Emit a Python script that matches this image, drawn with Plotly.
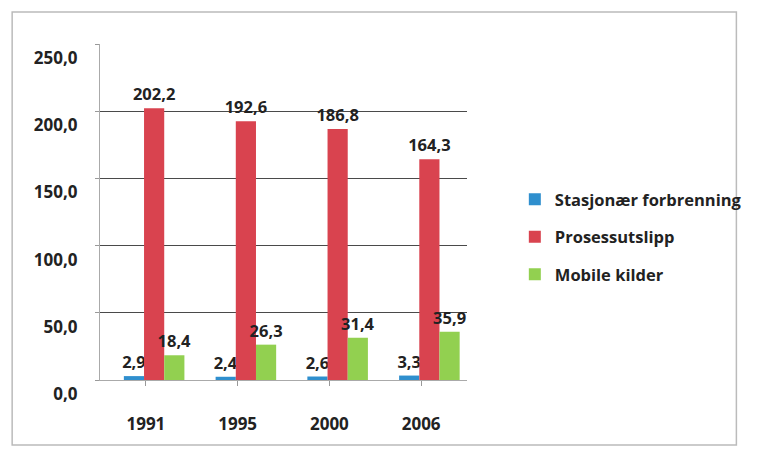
import plotly.graph_objects as go

years = ["1991", "1995", "2000", "2006"]
stasjonaer = [2.9, 2.4, 2.6, 3.3]
prosess = [202.2, 192.6, 186.8, 164.3]
mobile = [18.4, 26.3, 31.4, 35.9]
series_names = ["Stasjonær forbrenning", "Prosessutslipp", "Mobile kilder"]
colors = ["#2f8fce", "#d9434f", "#92d050"]
y_ticks = [0, 50, 100, 150, 200, 250]

FONT = "Open Sans"
BAR_W = 0.22
offsets = [-0.24, -0.02, 0.20]

fig = go.Figure()
for i, (name, vals) in enumerate(zip(series_names, [stasjonaer, prosess, mobile])):
    fig.add_trace(go.Bar(
        x=years, y=vals, name=name, legendgroup=str(i),
        width=BAR_W, offset=offsets[i],
        marker=dict(color=colors[i], line=dict(width=0)),
        text=[f"{v:.1f}".replace(".", ",") for v in vals],
        textposition="outside", cliponaxis=False, constraintext="none",
        textfont=dict(family=FONT, size=16.5, color="#222222", weight="bold"),
    ))

L, R, T, B = 100, 283, 44, 75
W, H = 759, 455
pw, ph = W - L - R, H - T - B

fig.update_layout(
    width=W, height=H,
    margin=dict(l=L, r=R, t=T, b=B),
    paper_bgcolor="white", plot_bgcolor="white",
    barmode="overlay",
    separators=", ",
    font=dict(family=FONT, size=15, color="#222222"),
    legend=dict(
        x=(525 - L) / pw, y=(T + ph - 182) / ph, xanchor="left", yanchor="top",
        font=dict(family=FONT, size=16.5, color="#222222", weight="bold"),
        tracegroupgap=13, itemwidth=30, bgcolor="rgba(0,0,0,0)",
    ),
    xaxis=dict(
        showline=True, linecolor="#aaaaaa", linewidth=1,
        ticks="outside", ticklen=5, tickcolor="#999999",
        ticklabelstandoff=24,
        tickfont=dict(family=FONT, size=17, color="#222222", weight="bold"),
        showgrid=False,
    ),
    yaxis=dict(
        range=[0, 250], tickvals=y_ticks,
        ticktext=[f"{v:.1f}".replace(".", ",") for v in y_ticks],
        showline=True, linecolor="#aaaaaa", linewidth=1,
        ticks="outside", ticklen=4, tickcolor="#999999",
        ticklabelstandoff=14, ticklabelshift=14,
        tickfont=dict(family=FONT, size=17, color="#222222", weight="bold"),
        showgrid=True, gridcolor="#4a4a4a", gridwidth=1.4,
        zeroline=False,
    ),
    shapes=[dict(
        type="rect", xref="paper", yref="paper",
        x0=(10 - L) / pw, x1=(752 - L) / pw,
        y0=(T + ph - 445) / ph, y1=(T + ph - 12) / ph,
        line=dict(color="#bbbbbb", width=1.5), fillcolor="rgba(0,0,0,0)", layer="below",
    )],
)
fig.write_html("out.html")
